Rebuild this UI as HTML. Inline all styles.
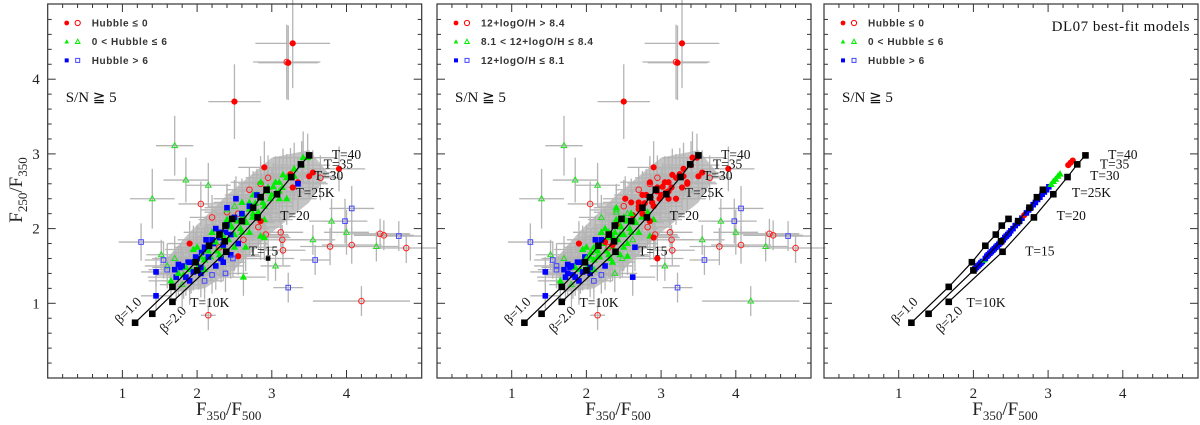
<!DOCTYPE html>
<html><head><meta charset="utf-8">
<style>
html,body{margin:0;padding:0;background:#fff;}
svg{display:block;}
.tk{font-family:"Liberation Serif",serif;font-size:15px;fill:#222;}
.lg{font-family:"Liberation Sans",sans-serif;font-weight:bold;font-size:10px;fill:#333;letter-spacing:0.6px;}
.sn{font-family:"Liberation Serif",serif;font-size:15px;fill:#111;}
.ml{font-family:"Liberation Serif",serif;font-size:13.5px;fill:#111;}
.ax{font-family:"Liberation Serif",serif;font-size:19px;fill:#222;}
</style></head>
<body>
<svg id="chart" width="1200" height="425" viewBox="0 0 1200 425" xmlns="http://www.w3.org/2000/svg"></svg>
<script>
// ---- data ----
var ptX = [3.28,3.20,3.22,2.50,1.70,1.40,4.20,2.15,4.45,4.50,4.80,4.70,3.78,4.07,4.07,3.98,4.00,3.80,4.40,3.58,3.22,3.55,1.25,1.45,1.45,1.52,3.15,3.12,3.14,2.92,3.05,2.05,1.85,2.15,
 2.90,3.25,3.50,3.90,3.65,3.55,2.95,2.70,2.85,2.55,2.40,3.28,2.82,2.85,1.90,2.55,2.62,2.20,2.30,
 2.60,2.70,2.80,2.95,3.05,3.15,3.30,3.42,2.45,2.35,2.25,2.15,2.05,1.95,1.85,1.75,1.65,2.50,2.65,2.75,2.88,3.00,3.10,2.00,2.20,2.40,2.60,2.10,2.30,1.80,1.70,1.60,2.85,3.20,3.35,2.55,
 2.00,2.10,2.20,2.30,2.40,2.50,1.90,1.80,1.70,2.15,2.35,2.45,2.60,2.25,1.95,2.05,1.85,1.75,2.70,2.80,2.38,2.48,2.20,2.10,1.60,1.55,2.40,2.52,2.35,2.62,2.90,2.95];
var ptY = [4.48,4.23,4.22,3.70,3.11,2.40,1.03,0.84,1.93,1.91,1.74,1.90,1.76,1.78,2.27,2.10,1.95,2.10,1.76,1.58,1.21,1.85,1.82,1.42,1.10,1.65,1.71,1.95,1.85,1.92,1.50,2.33,2.65,2.58,
 2.82,2.73,2.70,2.80,2.68,2.75,2.68,2.52,2.60,2.20,2.22,2.55,2.02,2.10,1.80,1.63,1.85,2.15,1.75,
 2.20,2.35,2.45,2.55,2.62,2.72,2.80,2.95,2.05,1.90,1.82,1.70,1.62,1.55,1.48,1.40,1.30,2.30,2.10,2.20,2.35,2.45,2.50,1.75,1.95,2.25,1.95,1.45,1.65,1.25,1.60,1.50,2.62,2.40,2.60,1.80,
 1.60,1.75,1.85,1.95,2.05,2.15,1.55,1.50,1.45,1.62,1.78,1.92,2.20,2.00,1.42,1.48,1.35,1.52,2.30,2.45,1.40,1.60,1.38,1.30,1.45,1.58,2.28,2.40,1.55,1.35,1.88,1.60];
var ptEx = [0.50,0.45,0.40,0.35,0.25,0.30,0.65,0.10,0.40,0.40,0.40,0.30,0.40,0.40,0.30,0.30,0.30,0.30,0.30,0.20,0.20,0.30,0.30,0.20,0.20,0.20,0.30,0.30,0.30,0.30,0.20,0.30,0.30,0.30,
 0.35,0.35,0.35,0.35,0.30,0.30,0.30,0.30,0.30,0.30,0.30,0.35,0.30,0.30,0.30,0.30,0.30,0.30,0.30,
 0.35,0.35,0.40,0.40,0.40,0.40,0.40,0.40,0.35,0.35,0.30,0.30,0.30,0.30,0.30,0.30,0.30,0.35,0.40,0.40,0.40,0.40,0.40,0.30,0.30,0.35,0.40,0.30,0.30,0.30,0.30,0.30,0.40,0.40,0.40,0.40,
 0.25,0.25,0.25,0.25,0.30,0.30,0.25,0.25,0.25,0.25,0.25,0.30,0.30,0.25,0.25,0.25,0.25,0.25,0.30,0.30,0.30,0.30,0.25,0.25,0.25,0.25,0.30,0.30,0.30,0.30,0.35,0.35];
var ptEy = [0.60,0.50,0.50,0.50,0.40,0.40,0.20,0.20,0.20,0.20,0.20,0.20,0.25,0.25,0.30,0.30,0.30,0.30,0.20,0.20,0.20,0.20,0.25,0.20,0.20,0.20,0.20,0.20,0.20,0.20,0.20,0.30,0.30,0.30,
 0.35,0.35,0.30,0.30,0.30,0.30,0.30,0.30,0.30,0.30,0.30,0.30,0.30,0.30,0.30,0.25,0.25,0.30,0.25,
 0.35,0.35,0.35,0.35,0.35,0.35,0.35,0.35,0.30,0.30,0.30,0.30,0.30,0.30,0.30,0.30,0.30,0.35,0.35,0.35,0.35,0.35,0.35,0.30,0.30,0.35,0.30,0.30,0.30,0.30,0.30,0.30,0.35,0.35,0.35,0.30,
 0.25,0.25,0.25,0.25,0.25,0.25,0.25,0.25,0.25,0.25,0.25,0.25,0.25,0.25,0.25,0.25,0.25,0.25,0.30,0.30,0.25,0.25,0.25,0.25,0.25,0.25,0.30,0.30,0.25,0.25,0.30,0.30];
var hubType = [0,0,0,0,1,1,0,0,0,0,0,2,0,0,2,2,1,1,1,2,2,1,2,2,2,1,0,0,0,0,1,0,1,1,
 0,0,0,0,0,0,0,0,0,0,0,0,0,0,0,0,0,0,0,
 1,1,1,1,1,1,1,1,1,1,1,1,1,1,1,1,1,1,1,1,1,1,1,1,1,1,1,1,1,1,1,1,1,1,2,
 2,2,2,2,2,2,2,2,2,2,2,2,2,2,2,2,2,2,2,2,2,2,2,2,2,2,2,2,2,2,1,1];
var metType = [0,0,0,0,1,1,1,0,0,0,0,2,0,0,2,2,1,1,1,2,2,1,2,2,2,1,0,0,0,0,1,0,1,1,
 0,0,0,0,0,0,0,0,0,1,1,0,0,0,0,1,1,1,0,
 1,0,0,0,0,0,0,0,1,1,0,1,1,1,1,2,1,0,1,0,0,0,0,1,1,1,1,1,1,1,1,2,0,0,0,1,
 1,1,2,1,0,1,2,2,2,1,0,1,1,1,2,2,2,2,0,0,1,1,2,2,2,2,1,0,1,2,0,0];
var ptFill = [1,0,1,1,0,0,0,0,0,0,0,0,0,0,0,0,0,0,0,0,0,0,0,1,1,0,0,0,0,0,0,0,0,0,
 1,1,1,1,0,1,0,0,0,0,0,1,0,1,1,1,0,0,0,
 1,1,1,1,1,1,1,1,1,1,1,1,1,1,1,1,1,0,1,1,1,1,1,1,1,0,1,1,1,0,0,0,1,1,1,1,
 1,1,1,1,1,1,1,1,1,1,1,1,1,1,1,1,1,1,1,1,0,0,0,0,0,0,1,1,1,1,1,1];
var cloudX = [1.72,1.78,1.82,1.88,1.92,1.98,2.02,2.06,2.10,2.14,2.18,2.22,2.26,2.30,2.34,2.38,2.42,2.46,2.50,2.54,2.58,2.62,2.66,2.70,2.74,2.78,2.82,2.86,2.90,2.94,2.98,3.02,3.06,3.10,3.14,3.20,3.30,3.40,3.48,2.20,2.40,2.60,2.75,2.50,2.70,2.90,1.95,2.12,2.32,1.90,2.45,2.05,2.25,3.10,3.35,2.65,2.85];
var cloudY = [1.35,1.48,1.38,1.55,1.45,1.62,1.50,1.68,1.58,1.72,1.62,1.80,1.70,1.88,1.76,1.95,1.85,2.02,1.92,2.10,2.00,2.18,2.08,2.26,2.15,2.34,2.22,2.42,2.30,2.50,2.40,2.56,2.48,2.62,2.55,2.68,2.70,2.85,2.95,1.95,2.12,2.35,2.45,1.75,1.95,2.12,1.72,1.85,1.60,1.30,1.65,1.40,1.50,2.40,2.62,1.75,1.90];
var cloudHub = [2,2,1,2,1,2,1,2,1,2,1,2,1,2,1,2,1,1,1,1,1,1,1,1,1,1,1,1,1,1,1,1,1,1,1,1,1,1,1,1,1,1,1,1,1,1,1,2,2,2,2,2,2,1,0,1,1];
var cloudMet = [2,2,2,2,1,2,1,1,1,1,1,1,1,1,1,1,1,1,1,1,1,0,1,0,1,0,1,0,0,0,0,0,0,0,0,0,0,0,0,1,1,0,0,1,1,1,1,2,1,2,1,2,2,0,0,2,1];
// envelope of overlapping error bars (data coords)
var envX = [1.55,1.90,2.40,3.00,3.50,3.75,3.50,3.00,2.50,2.10,1.70];
var envY = [1.55,1.95,2.45,2.95,3.05,2.75,2.35,1.95,1.45,1.20,1.15];
var fitX = [2.00,2.02,2.04,2.06,2.08,2.10,2.12,2.14,2.16,2.18,2.20,2.22,2.24,2.26,2.28,2.30,2.32,2.34,2.36,2.38,2.40,2.42,2.44,2.46,2.48,2.50,2.53,2.56,2.59,2.62,2.65,2.68,2.71,2.74,2.77,2.80,2.83,2.86,2.89,2.92,2.95,2.98,3.01,3.04,3.07,3.10,3.13,3.16,3.27,3.30,3.33];
var fitY = [1.43,1.46,1.48,1.50,1.52,1.54,1.56,1.58,1.60,1.63,1.65,1.67,1.69,1.71,1.73,1.75,1.77,1.79,1.81,1.83,1.85,1.88,1.90,1.92,1.94,1.97,2.00,2.04,2.07,2.10,2.14,2.18,2.21,2.25,2.28,2.32,2.35,2.39,2.42,2.46,2.49,2.52,2.56,2.59,2.63,2.66,2.70,2.73,2.85,2.88,2.91];
var fitType = [1,2,2,2,2,2,2,1,2,2,2,2,2,2,2,2,2,2,2,2,2,2,2,2,2,2,2,2,2,2,2,0,2,2,2,2,2,2,2,2,2,2,2,1,1,1,1,1,0,0,0];
var trk1X=[1.17,1.67,1.98,2.16,2.30,2.38,2.47], trk1Y=[0.74,1.22,1.55,1.77,1.92,2.04,2.13];
var trk2X=[1.40,2.00,2.37,2.60,2.75,2.85,2.93], trk2Y=[0.86,1.44,1.83,2.10,2.28,2.42,2.52];
var trk3X=[1.67,2.39,2.81,3.07,3.26,3.39,3.50], trk3Y=[1.02,1.69,2.15,2.46,2.69,2.86,2.98];
var tLabels=["T=40","T=35","T=30","T=25K","T=20","T=15","T=10K"];
var tLabX=[4.0,3.89,3.76,3.58,3.31,2.89,2.17], tLabY=[3.0,2.87,2.72,2.49,2.18,1.71,1.02];
var xTicks=[1,2,3,4], yTicks=[1,2,3,4];

// ---- drawing ----
var NS="http://www.w3.org/2000/svg", svg=document.getElementById('chart');
var PL=[47.7,437,824], PT=4, PS=374, SC=74.7;
var cols=['#ff0000','#00ee00','#0000ff'], hcols=['#ff2020','#22dd22','#4444ff'];
function mk(t,a,p){var e=document.createElementNS(NS,t);for(var k in a)e.setAttribute(k,a[k]);(p||svg).appendChild(e);return e;}
function marker(g,x,y,ty,f){
  var c=f?cols[ty]:hcols[ty], m;
  if(ty==0) m=mk('circle',{cx:x,cy:y,r:f?2.6:2.8,fill:f?c:'none',stroke:c,'stroke-width':1},g);
  else if(ty==1) m=mk('polygon',{points:(x)+','+(y-3)+' '+(x-2.8)+','+(y+2)+' '+(x+2.8)+','+(y+2),fill:f?c:'none',stroke:c,'stroke-width':1},g);
  else m=mk('rect',{x:x-2.3,y:y-2.3,width:4.6,height:4.6,fill:f?c:'none',stroke:c,'stroke-width':1},g);
  
  
}
function panel(i,types,ctypes,legend,useFit){
  var L=PL[i];
  var sx=function(v){return L+v*SC;}, sy=function(v){return PT+PS-v*SC;};
  var g=mk('g',{});
  
  
  for(var k=1;k<25;k++){var v=k*0.2, maj=(k%5==0), len=maj?8:4;
    mk('line',{x1:sx(v),x2:sx(v),y1:PT+PS,y2:PT+PS-len,stroke:'#333','stroke-width':1},g);
    mk('line',{x1:sx(v),x2:sx(v),y1:PT,y2:PT+len,stroke:'#333','stroke-width':1},g);
    mk('line',{x1:L,x2:L+len,y1:sy(v),y2:sy(v),stroke:'#333','stroke-width':1},g);
    mk('line',{x1:L+PS,x2:L+PS-len,y1:sy(v),y2:sy(v),stroke:'#333','stroke-width':1},g);}
  xTicks.forEach(function(v){var t=mk('text',{x:sx(v),y:398,'text-anchor':'middle','class':'tk'},g);t.textContent=v;
    
    });
  if(i==0) yTicks.forEach(function(v){var t=mk('text',{x:36,y:sy(v)+5,'text-anchor':'middle','class':'tk'},g);t.textContent=v;
    
    });
  if(!useFit){
    var env=mk('polygon',{points:envX.map(function(v,q){return sx(v)+','+sy(envY[q]);}).join(' '),fill:'#c4c4c4',stroke:'none'},g);
    
    
    var eb=function(x,y,ex,ey){
      mk('line',{x1:sx(x-ex),x2:sx(x+ex),y1:sy(y),y2:sy(y),stroke:'#b4b4b4','stroke-width':1.3},g);
      mk('line',{x1:sx(x),x2:sx(x),y1:sy(y-ey),y2:sy(y+ey),stroke:'#b4b4b4','stroke-width':1.3},g);};
    for(var j=0;j<ptX.length;j++) eb(ptX[j],ptY[j],ptEx[j],ptEy[j]);
    for(var j=0;j<cloudX.length;j++) eb(cloudX[j],cloudY[j],0.38,0.32);
    for(var j=0;j<cloudX.length;j++) marker(g,sx(cloudX[j]),sy(cloudY[j]),ctypes[j],1);
    for(var j=0;j<ptX.length;j++) marker(g,sx(ptX[j]),sy(ptY[j]),types[j],ptFill[j]);
  } else {
    for(var j=0;j<fitX.length;j++) marker(g,sx(fitX[j]),sy(fitY[j]),types[j],1);
  }
  [[trk1X,trk1Y],[trk2X,trk2Y],[trk3X,trk3Y]].forEach(function(tr,ti){
    var pts=tr[0].map(function(v,q){return sx(v)+','+sy(tr[1][q]);}).join(' ');
    var pl=mk('polyline',{points:pts,fill:'none',stroke:'#000','stroke-width':1.2},g);
    
    
    tr[0].forEach(function(v,q){var r=mk('rect',{x:sx(v)-3.3,y:sy(tr[1][q])-3.3,width:6.6,height:6.6,fill:'#000'},g);
      
      });});
  tLabels.forEach(function(s,q){var t=mk('text',{x:sx(tLabX[q]),y:sy(tLabY[q])+5,'text-anchor':'middle','class':'ml'},g);t.textContent=s;
    
    });
  [['β=1.0',1.07,0.91],['β=2.0',1.67,0.79]].forEach(function(b){
    var t=mk('text',{x:sx(b[1]),y:sy(b[2])+5,'text-anchor':'middle','class':'ml',transform:'rotate(-45 '+sx(b[1])+' '+sy(b[2])+')'},g);t.textContent=b[0];
    
    });
  legend.forEach(function(s,q){var y=PT+19+q*18.7, x=L+19, c=cols[q];
    if(q==0){mk('circle',{cx:x,cy:y,r:2.4,fill:c},g);mk('circle',{cx:x+11,cy:y,r:2.6,fill:'none',stroke:c},g);}
    else if(q==1){mk('polygon',{points:x+','+(y-2.5)+' '+(x-2.3)+','+(y+1.8)+' '+(x+2.3)+','+(y+1.8),fill:c},g);mk('polygon',{points:(x+11)+','+(y-2.5)+' '+(x+8.7)+','+(y+1.8)+' '+(x+13.3)+','+(y+1.8),fill:'none',stroke:c},g);}
    else {mk('rect',{x:x-2,y:y-2,width:4,height:4,fill:c},g);mk('rect',{x:x+9,y:y-2,width:4,height:4,fill:'none',stroke:hcols[2]},g);}
    var t=mk('text',{x:L+44,y:y+3.5,'class':'lg'},g);t.textContent=s;
    
    });
  var sn=mk('text',{x:L+18,y:PT+98,'class':'sn'},g);sn.textContent='S/N ≧ 5';
  
  
  if(useFit){var d=mk('text',{x:L+PS-8,y:PT+27,'text-anchor':'end','class':'sn','letter-spacing':'0.5'},g);d.textContent='DL07 best-fit models';
    
    }
  var fr=mk('rect',{x:L,y:PT,width:PS,height:PS,fill:'none',stroke:'#333','stroke-width':1.2},g);
  
  
  var xt=mk('text',{x:L+PS/2-6,y:415,'text-anchor':'middle','class':'ax'},g);
  xt.innerHTML='F<tspan dy="5" font-size="13">350</tspan><tspan dy="-5">/F</tspan><tspan dy="5" font-size="13">500</tspan>';
  
  
}
panel(0,hubType,cloudHub,['Hubble ≤ 0','0 < Hubble ≤ 6','Hubble > 6'],false);
panel(1,metType,cloudMet,['12+logO/H > 8.4','8.1 < 12+logO/H ≤ 8.4','12+logO/H ≤ 8.1'],false);
panel(2,fitType,null,['Hubble ≤ 0','0 < Hubble ≤ 6','Hubble > 6'],true);
var yt=mk('text',{x:0,y:0,'text-anchor':'middle','class':'ax',transform:'translate(22,190) rotate(-90)'});
yt.innerHTML='F<tspan dy="5" font-size="13">250</tspan><tspan dy="-5">/F</tspan><tspan dy="5" font-size="13">350</tspan>';


</script>
</body></html>
